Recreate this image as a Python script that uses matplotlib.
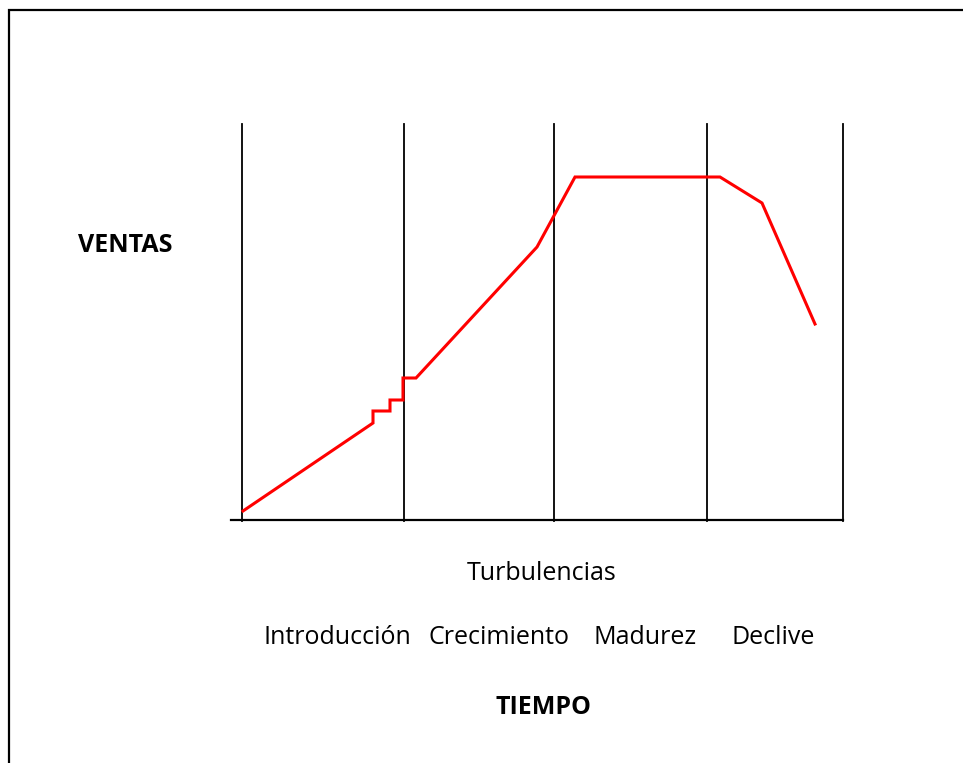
import matplotlib
matplotlib.use("Agg")
import matplotlib.pyplot as plt
from matplotlib.patches import Rectangle

plt.rcParams['font.family'] = ['Open Sans', 'DejaVu Sans']

# stage boundaries (time axis) and axis extent
stage_edges = [0, 162, 312, 465, 601]
axis_top = 397
axis_start = -11

# sales curve through the product life cycle
tiempo = [1, 131, 131, 148, 148, 161, 161, 174, 295, 333, 478, 520, 573]
ventas = [10, 98, 110, 110, 121, 121, 143, 143, 274, 344, 344, 318, 197]

stage_names = ['Introducción', 'Crecimiento', 'Madurez', 'Declive']
stage_label_x = [21, 186, 351, 490]

fig = plt.figure(figsize=(9.63, 7.63), dpi=100)
ax = fig.add_axes([0, 0, 1, 1])
ax.set_xlim(-242, 721)
ax.set_ylim(-242, 521)
ax.axis('off')

# frame around the drawing (open at right and bottom)
ax.add_patch(Rectangle((-233, -260), 1000, 771, fill=False, lw=1.6, ec='black'))

for x in stage_edges:
    ax.plot([x, x], [0, axis_top], color='black', lw=1.3)
ax.plot([axis_start, stage_edges[-1]], [1, 1], color='black', lw=1.6)

ax.plot(tiempo, ventas, color='#ff0000', lw=2.2, solid_joinstyle='miter')

ax.text(-117, 275, 'VENTAS', fontsize=18, fontweight='bold', ha='center', va='center')
ax.text(300, -52, 'Turbulencias', fontsize=18, ha='center', va='center')
for name, x in zip(stage_names, stage_label_x):
    ax.text(x, -117, name, fontsize=18, ha='left', va='center')
ax.text(301, -186, 'TIEMPO', fontsize=18, fontweight='bold', ha='center', va='center')

fig.savefig('out.png', dpi=100)
